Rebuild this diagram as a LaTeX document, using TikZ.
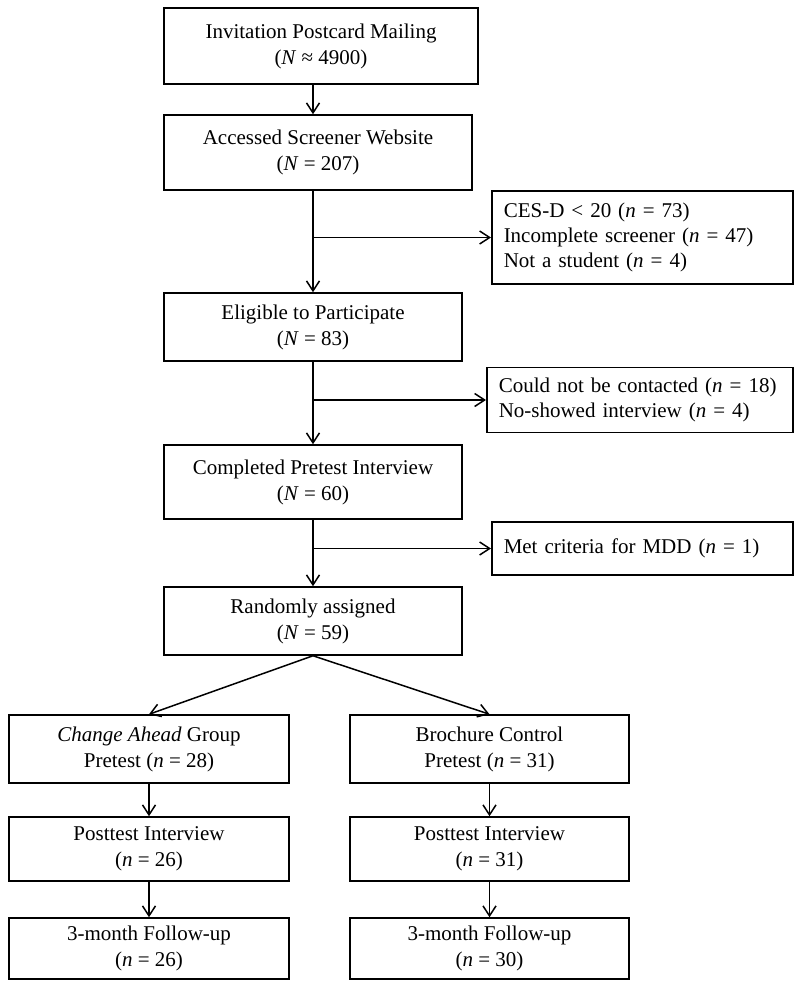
\documentclass[tikz,border=0pt]{standalone}
\usepackage{fontspec}
\setmainfont{Liberation Serif}
\usetikzlibrary{arrows.meta}

\tikzset{
  box/.style={draw, line width=1.5pt, align=center, inner sep=0pt,
    font=\fontsize{21}{26}\selectfont},
  side/.style={draw, line width=1.5pt, align=left, anchor=west,
    inner xsep=12pt, inner ysep=0pt, font=\fontsize{21}{25}\selectfont},
  arr/.style={line width=1.5pt, -{Straight Barb[length=10pt,width=13pt]}}
}

\begin{document}
\begin{tikzpicture}[x=1pt, y=-1pt]
 \useasboundingbox (0,0) rectangle (800,986);
 % main column
 \node[box, minimum width=314pt, minimum height=76pt] (mail) at (321,46)    {Invitation Postcard Mailing\\(\textit{N} ≈ 4900)};
 \node[box, minimum width=308pt, minimum height=75pt] (scr)  at (318,152.5) {Accessed Screener Website\\(\textit{N} = 207)};
 \node[box, minimum width=298pt, minimum height=68pt] (elig) at (313,327)   {Eligible to Participate\\(\textit{N} = 83)};
 \node[box, minimum width=298pt, minimum height=74pt] (pre)  at (313,482)   {Completed Pretest Interview\\(\textit{N} = 60)};
 \node[box, minimum width=298pt, minimum height=68pt] (rand) at (313,621)   {Randomly assigned\\(\textit{N} = 59)};
 % exclusions
 \node[side, text width=277pt, minimum height=93pt] (exA) at (491,237.5) {CES-D < 20 (\textit{n} = 73)\\Incomplete screener (\textit{n} = 47)\\Not a student (\textit{n} = 4)};
 \node[side, text width=282pt, minimum height=65pt] (exB) at (486,400)   {Could not be contacted (\textit{n} = 18)\\No-showed interview (\textit{n} = 4)};
 \node[side, text width=277pt, minimum height=53pt] (exC) at (491,548.5) {Met criteria for MDD (\textit{n} = 1)};
 % two arms
 \node[box, minimum width=280pt, minimum height=68pt] (cgrp)  at (149,749)   {\textit{Change Ahead} Group\\Pretest (\textit{n} = 28)};
 \node[box, minimum width=280pt, minimum height=64pt] (cpost) at (149,849)   {Posttest Interview\\(\textit{n} = 26)};
 \node[box, minimum width=280pt, minimum height=61pt] (cfol)  at (149,948.5) {3-month Follow-up\\(\textit{n} = 26)};
 \node[box, minimum width=279pt, minimum height=68pt] (bgrp)  at (489.5,749)   {Brochure Control\\Pretest (\textit{n} = 31)};
 \node[box, minimum width=279pt, minimum height=64pt] (bpost) at (489.5,849)   {Posttest Interview\\(\textit{n} = 31)};
 \node[box, minimum width=279pt, minimum height=61pt] (bfol)  at (489.5,948.5) {3-month Follow-up\\(\textit{n} = 30)};

 \draw[arr] (mail.south -| elig.north) -- (scr.north -| elig.north);
 \draw[arr] (scr.south -| elig.north) -- (elig.north);
 \draw[arr] (elig.north |- exA.west) -- (exA.west);
 \draw[arr] (elig.south) -- (pre.north);
 \draw[arr] (elig.south |- exB.west) -- (exB.west);
 \draw[arr] (pre.south) -- (rand.north);
 \draw[arr] (pre.south |- exC.west) -- (exC.west);
 \draw[arr] (rand.south) -- (cgrp.north);
 \draw[arr] (rand.south) -- (bgrp.north);
 \draw[arr] (cgrp.south) -- (cpost.north);
 \draw[arr] (cpost.south) -- (cfol.north);
 \draw[arr] (bgrp.south) -- (bpost.north);
 \draw[arr] (bpost.south) -- (bfol.north);
\end{tikzpicture}
\end{document}
